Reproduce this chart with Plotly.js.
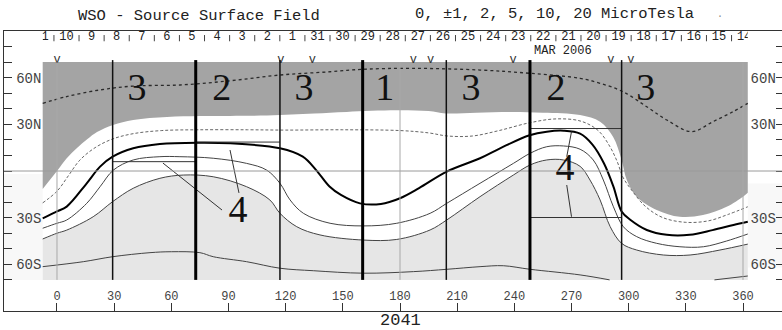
<!DOCTYPE html>
<html>
<head>
<meta charset="utf-8">
<script src="https://cdn.plot.ly/plotly-3.0.1.min.js"></script>
<style>html,body{margin:0;padding:0;background:#fff;}#chart{width:782px;height:330px;}</style>
</head>
<body>
<div id="chart"></div>
<script>
// ---------------- data (longitude in degrees, latitude in degrees) ----------------
const lonTicks = [0, 30, 60, 90, 120, 150, 180, 210, 240, 270, 300, 330, 360];
const latTickVals = [60, 30, -30, -60];
const latTickText = ['60N', '30N', '30S', '60S'];

const dateLabels = ['11','10','9','8','7','6','5','4','3','2','1','31','30','29','28','27','26','25','24','23','22','21','20','19','18','17','16','15','14'];
const dateTickLon0 = -1.6;      // first day boundary
const dayLon = 13.17;           // degrees of longitude per day

const vMarkLon = [0, 117.5, 134, 187, 196, 239.3, 290.7, 301.2];

const thinBounds = [29.2, 117, 204.3, 296.3];
const thickBounds = [72.8, 160.4, 248.2];
const regionLabels = ['3', '2', '3', '1', '3', '2', '3'];
const regionLabelLon = [42, 86.4, 129.6, 172, 217.2, 261.8, 309];
const regionLabelLat = [51.5, 51.5, 51.5, 51.5, 51.5, 51.5, 51.5];

const fourLabelLon = [95, 266.6];
const fourLabelLat = [-26.7, 0.2];

// horizontal marker segments [lon0, lon1, lat]
const segLon0 = [29.2, 72.8, 248.2, 248.2];
const segLon1 = [72.8, 117, 296.3, 296.3];
const segLat = [6.0, 18.6, 27.3, -29.9];
// leader lines of the "4" labels
const leadLon0 = [90.8, 55.6, 270, 267.5];
const leadLat0 = [13.5, 5.1, 25.3, -9];
const leadLon1 = [95.5, 86.6, 267.5, 270];
const leadLat1 = [-14.1, -25.1, 9.2, -29.4];

const dataLonMin = -7.5, dataLonMax = 362.5, dataLatMax = 70, dataLatMin = -70;

// dotted high-latitude contour
const cTopLon = [-7.5, 5, 22, 40, 64.5, 90.8, 117, 143.3, 160.8, 186.9, 222, 248.2, 274.5, 285, 297, 309.5, 320, 333, 344.2, 354.7, 362.5];
const cTopLat = [43.5, 47.8, 52, 54.6, 55.3, 58, 61.7, 63.8, 65.4, 66, 64.9, 62.8, 59.6, 56.4, 51, 41.3, 32.8, 25.3, 31.7, 38.1, 43.5];

// edge of dark shaded region
const darkLon = [-7.5, 0, 5, 10.5, 16, 21, 29.4, 40, 57.7, 75, 100, 117, 135, 152, 178, 195, 204, 220, 239, 255, 274.5, 285, 291.8, 296.3, 299, 304.2, 314.7, 326.8, 339, 351.4, 360, 362.5];
const darkLat = [-11.5, 0, 8, 14.8, 20.5, 25, 29.6, 32.8, 34.7, 35.3, 35.5, 36, 37, 38, 39, 38.5, 37, 37.5, 38, 37.5, 36, 31.7, 22, 7.1, -5.8, -16.5, -25, -29.4, -28.3, -23, -16.5, -14];

// dashed contour just below the dark region
const cm1Lon = [-7.5, 0, 6, 12, 20, 29, 40, 55, 75, 100, 120, 150, 180, 195, 205, 218, 232, 248, 262, 275, 284, 290, 294, 297, 302, 309, 318, 330, 342, 352, 362.5];
const cm1Lat = [-20.5, -13, -3, 7, 15, 20.5, 24, 26, 26.5, 26.5, 26.3, 26.5, 26, 24.5, 22.5, 22.5, 26, 31, 33.5, 32, 26, 16, 6, -4, -13, -23, -30, -33, -32, -28, -23];

// neutral line
const c0Lon = [-7.5, 0, 5.1, 15.6, 22.6, 29.2, 40, 54, 75, 91, 117, 129, 136, 143, 149, 159, 170, 180, 190, 204.5, 222, 232.5, 248, 257, 266, 274.5, 281, 287, 292, 296.3, 301, 309.5, 320, 332, 344, 355, 362.5];
const c0Lat = [-30.4, -26, -22.9, -7.9, 2.8, 9.2, 14.6, 17.4, 18.2, 17.8, 14.6, 9.2, 0.6, -10, -15.4, -20.8, -21.2, -17.5, -11, -0.4, 8.2, 14.6, 23, 25.3, 25.9, 24, 17, 5, -10, -26, -31.5, -37.9, -41, -41, -38, -34.7, -32.6];

// first positive contour
const cp1Lon = [-7.5, 0, 5.1, 15.6, 22.6, 29.6, 40, 54, 64.5, 82, 99.5, 110, 117, 122.3, 129.3, 143.3, 160.8, 178.3, 195.8, 204.5, 222, 239.5, 248.3, 257, 265.8, 274.5, 281.4, 286.7, 292, 297.2, 304.2, 314.7, 326.9, 339.2, 351.4, 362.5];
const cp1Lat = [-36.8, -33.6, -31.5, -20.8, -10.1, 0.6, 7.1, 9.2, 9.2, 8.2, 4.9, 0.6, -7.9, -18.6, -27.2, -33.6, -35.3, -33.6, -27.2, -20.8, -7.9, 4.9, 11.4, 15.6, 16.1, 14, 7.1, -5.8, -23, -35.8, -42.2, -46.5, -48.7, -48.7, -45, -40.5];

// second positive contour (edge of light shaded region)
const cp2Lon = [-7.5, 0, 5.1, 19, 29.2, 40, 54, 66.3, 82, 99.5, 111.7, 117, 125.8, 138, 160.8, 178.3, 195.8, 204.5, 222, 239.5, 248.3, 257, 265.8, 274.5, 279.7, 285, 290.3, 296.3, 304.2, 318.2, 332.2, 347.9, 362.5];
const cp2Lat = [-43.7, -40, -38, -29.4, -19.7, -11.1, -4.7, -2.6, -3.7, -10.1, -18.6, -27.2, -35.8, -41.1, -44.4, -44, -37.9, -31.5, -16.5, -2.6, 3.9, 7.1, 7.1, 3, -5.8, -18.6, -35.8, -46.5, -50.8, -54, -54, -50.8, -47];

// third positive contour (low latitudes)
const cp3Lon = [-7.5, 13.8, 29.2, 48.8, 60, 75, 82, 99.5, 117, 134.5, 160.8, 187, 204.5, 222, 234.2, 248.3, 274.5, 290, null, 345, 362.5];
const cp3Lat = [-61.5, -58.3, -55.1, -52.5, -51.9, -52.5, -55.1, -58.3, -62.5, -64.1, -65.7, -64.7, -63.2, -61.5, -60.9, -63.2, -66.8, -70, null, -70, -67.5];

// ---------------- axes geometry ----------------
const X0 = -27.81, X1 = 380.46;
const dom = v => (v - X0) / (X1 - X0);

const traces = [];
// faint stipple outside the data window (southern half)
traces.push({x: [X0, dataLonMin, dataLonMin, X0], y: [-2, -2, -70, -70], mode: 'lines', fill: 'toself', fillcolor: '#f8f8f8', line: {width: 0, color: 'rgba(0,0,0,0)'}, hoverinfo: 'skip'});
traces.push({x: [dataLonMax, X1, X1, dataLonMax], y: [-8, -8, -62, -62], mode: 'lines', fill: 'toself', fillcolor: '#f8f8f8', line: {width: 0, color: 'rgba(0,0,0,0)'}, hoverinfo: 'skip'});
// dark region: top edge then fill down to the dark edge
traces.push({x: [dataLonMin, dataLonMax], y: [dataLatMax, dataLatMax], mode: 'lines', line: {width: 0, color: 'rgba(0,0,0,0)'}, hoverinfo: 'skip'});
traces.push({x: darkLon, y: darkLat, mode: 'lines', line: {width: 0, shape: 'spline', color: 'rgba(0,0,0,0)'}, fill: 'tonexty', fillcolor: '#a4a4a4', hoverinfo: 'skip'});
// light region: bottom edge then fill up to second contour
traces.push({x: [dataLonMin, dataLonMax], y: [dataLatMin, dataLatMin], mode: 'lines', line: {width: 0, color: 'rgba(0,0,0,0)'}, hoverinfo: 'skip'});
traces.push({x: cp2Lon, y: cp2Lat, mode: 'lines', line: {width: 1, shape: 'spline', color: '#444'}, fill: 'tonexty', fillcolor: '#e6e6e6', hoverinfo: 'skip'});

function contour(x, y, color, width, dash) {
  traces.push({x: x, y: y, mode: 'lines', connectgaps: false, line: {color: color, width: width, dash: dash || 'solid', shape: 'spline'}, hoverinfo: 'skip'});
}
contour(cTopLon, cTopLat, '#2a2a2a', 1.3, 'dot');
contour(cm1Lon, cm1Lat, '#666', 1, '3px,2px');
contour(c0Lon, c0Lat, '#000', 2);
contour(cp1Lon, cp1Lat, '#444', 1);
contour(cp3Lon, cp3Lat, '#444', 1);

// marker segments and leader lines
const sx = [], sy = [];
for (let i = 0; i < segLon0.length; i++) { sx.push(segLon0[i], segLon1[i], null); sy.push(segLat[i], segLat[i], null); }
for (let i = 0; i < leadLon0.length; i++) { sx.push(leadLon0[i], leadLon1[i], null); sy.push(leadLat0[i], leadLat1[i], null); }
traces.push({x: sx, y: sy, mode: 'lines', line: {color: '#333', width: 1}, hoverinfo: 'skip'});

// V marks
traces.push({x: vMarkLon, y: vMarkLon.map(() => 71.4), mode: 'text', text: vMarkLon.map(() => 'v'), textfont: {family: 'Liberation Mono', size: 12, color: '#333'}, cliponaxis: false, hoverinfo: 'skip'});
// region numbers
traces.push({x: regionLabelLon, y: regionLabelLat, mode: 'text', text: regionLabels, textfont: {family: 'Liberation Serif', size: 38, color: '#111'}, cliponaxis: false, hoverinfo: 'skip'});
traces.push({x: fourLabelLon, y: fourLabelLat, mode: 'text', text: ['4', '4'], textfont: {family: 'Liberation Serif', size: 38, color: '#111'}, cliponaxis: false, hoverinfo: 'skip'});

// date labels (clipped to the data window) and day ticks
const dateLabelLon = dateLabels.map((d, k) => dateTickLon0 + dayLon * k - dayLon / 2);
traces.push({x: dateLabelLon, y: dateLabels.map(() => 86.2), xaxis: 'x2', yaxis: 'y3', mode: 'text', text: dateLabels, textfont: {family: 'Liberation Mono', size: 12, color: '#222'}, cliponaxis: true, hoverinfo: 'skip'});
const tx = [], ty = [];
for (let k = 0; k < dateLabels.length - 1; k++) { const l = dateTickLon0 + dayLon * k; tx.push(l, l, null); ty.push(83.4, 87.4, null); }
traces.push({x: tx, y: ty, mode: 'lines', line: {color: '#444', width: 1}, hoverinfo: 'skip'});

// shapes: equator, meridians, sector boundaries
const shapes = [];
shapes.push({type: 'line', xref: 'paper', x0: 0, x1: 1, yref: 'y', y0: 0, y1: 0, line: {color: '#9a9a9a', width: 1}});
[0, 180, 360].forEach(l => shapes.push({type: 'line', xref: 'x', x0: l, x1: l, yref: 'y', y0: dataLatMin, y1: dataLatMax, line: {color: '#a8a8a8', width: 1}}));
thinBounds.forEach(l => shapes.push({type: 'line', xref: 'x', x0: l, x1: l, yref: 'y', y0: dataLatMin, y1: 71.3, line: {color: '#111', width: 1.5}}));
thickBounds.forEach(l => shapes.push({type: 'line', xref: 'x', x0: l, x1: l, yref: 'y', y0: dataLatMin, y1: 71.3, line: {color: '#000', width: 3}}));

const mono = 'Liberation Mono, Courier New, monospace';
const annotations = [
  {text: 'WSO - Source Surface Field', xref: 'paper', yref: 'paper', x: 0.2506, y: 1.0536, xanchor: 'center', yanchor: 'middle', showarrow: false, font: {family: mono, size: 15.5, color: '#222'}},
  {text: '0, ±1, 2, 5, 10, 20 MicroTesla', xref: 'paper', yref: 'paper', x: 0.707, y: 1.0607, xanchor: 'center', yanchor: 'middle', showarrow: false, font: {family: mono, size: 15.5, color: '#222'}},
  {text: '.', xref: 'paper', yref: 'paper', x: 0.9203, y: 1.06, xanchor: 'center', yanchor: 'middle', showarrow: false, font: {family: mono, size: 10, color: '#888'}},
  {text: 'MAR 2006', xref: 'x', yref: 'y', x: 265.5, y: 77.3, xanchor: 'center', yanchor: 'middle', showarrow: false, font: {family: mono, size: 12, color: '#222'}},
  {text: '2041', xref: 'x', yref: 'paper', x: 180, y: -0.0357, xanchor: 'center', yanchor: 'middle', showarrow: false, font: {family: mono, size: 17, color: '#222'}}
];

const layout = {
  width: 782, height: 330,
  margin: {l: 4, r: 0, t: 31, b: 19, pad: 0},
  paper_bgcolor: '#fff', plot_bgcolor: 'rgba(0,0,0,0)',
  showlegend: false,
  font: {family: mono, color: '#222'},
  xaxis: {range: [X0, X1], domain: [0, 1], anchor: 'y', showline: true, mirror: true, linecolor: '#333', linewidth: 1,
          ticks: 'inside', ticklen: 8, tickcolor: '#333', tickvals: lonTicks, ticktext: lonTicks.map(String),
          ticklabelposition: 'inside', tickfont: {size: 12, family: mono}, showgrid: false, zeroline: false},
  yaxis: {range: [-90, 90], domain: [0, 1], anchor: 'x', showline: true, mirror: true, linecolor: '#333', linewidth: 1,
          ticks: 'inside', ticklen: 8, tickcolor: '#333', tickvals: latTickVals, ticktext: latTickText,
          ticklabelposition: 'inside', ticklabelstandoff: 4, tickfont: {size: 14, family: mono},
          minor: {tick0: 0, dtick: 10, ticks: 'inside', ticklen: 8, tickcolor: '#333'}, showgrid: false, zeroline: false},
  yaxis2: {range: [-90, 90], overlaying: 'y', side: 'right', anchor: 'x', showline: false,
          ticks: 'inside', ticklen: 6, tickcolor: '#333', tickvals: latTickVals, ticktext: latTickText,
          ticklabelposition: 'inside', tickfont: {size: 14, family: mono},
          minor: {tick0: 0, dtick: 10, ticks: 'inside', ticklen: 6, tickcolor: '#333'}, showgrid: false, zeroline: false},
  xaxis2: {domain: [dom(dataLonMin), dom(dataLonMax)], range: [dataLonMin, dataLonMax], anchor: 'y3', visible: false, showgrid: false, zeroline: false},
  yaxis3: {domain: [0, 1], range: [-90, 90], anchor: 'x2', visible: false, showgrid: false, zeroline: false},
  shapes: shapes,
  annotations: annotations
};

// dummy trace so that yaxis2 is drawn
traces.push({x: [0], y: [0], yaxis: 'y2', mode: 'markers', marker: {opacity: 0}, hoverinfo: 'skip'});

Plotly.newPlot('chart', traces, layout, {staticPlot: true, displayModeBar: false});
</script>
</body>
</html>
